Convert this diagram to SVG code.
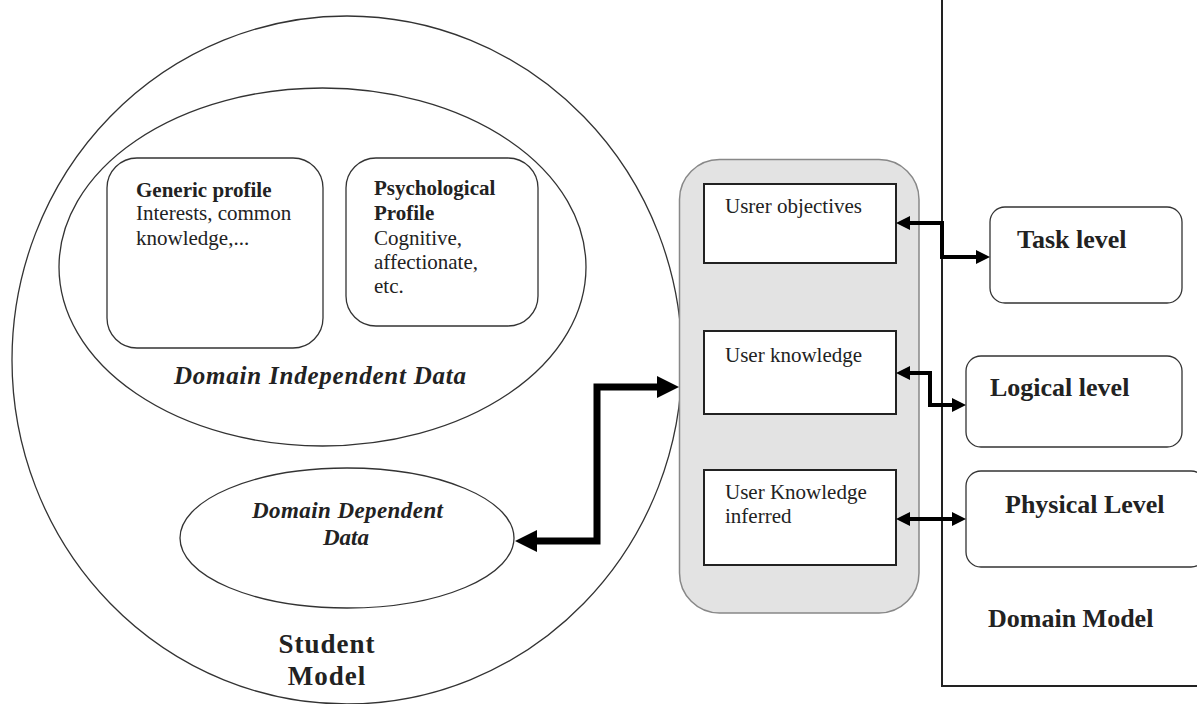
<svg xmlns="http://www.w3.org/2000/svg" width="1197" height="704" viewBox="0 0 1197 704">
  <defs>
    <style>
      .outline { fill: none; stroke: #333; stroke-width: 1.3; }
      .box { fill: #fff; stroke: #333; stroke-width: 1.3; }
      .sqbox { fill: #fff; stroke: #222; stroke-width: 2; }
      .txt { font-family: "Liberation Serif", "Times New Roman", serif; font-size: 21px; fill: #222; }
      .b { font-weight: bold; }
      .big { font-family: "Liberation Serif", "Times New Roman", serif; font-size: 26px; font-weight: bold; fill: #222; }
      .bi { font-family: "Liberation Serif", "Times New Roman", serif; font-style: italic; font-weight: bold; fill: #222; }
      .thin { fill: none; stroke: #000; stroke-width: 4; stroke-linejoin: miter; }
      .thick { fill: none; stroke: #000; stroke-width: 7; stroke-linejoin: miter; }
    </style>
    <marker id="head" markerUnits="userSpaceOnUse" markerWidth="16" markerHeight="16" viewBox="0 -8 16 16" refX="0" refY="0" orient="auto-start-reverse">
      <path d="M0,-7 L14,0 L0,7 z" fill="#000"/>
    </marker>
    <marker id="bighead" markerUnits="userSpaceOnUse" markerWidth="24" markerHeight="24" viewBox="0 -12 24 24" refX="0" refY="0" orient="auto-start-reverse">
      <path d="M0,-11 L22,0 L0,11 z" fill="#000"/>
    </marker>
  </defs>

  <rect width="1197" height="704" fill="#fff"/>

  <!-- Student model -->
  <g id="student-model">
    <ellipse class="outline" cx="347" cy="360" rx="335" ry="344"/>
    <text class="txt b" x="327" y="653" text-anchor="middle" style="font-size:27px;letter-spacing:1px">Student</text>
    <text class="txt b" x="327" y="685" text-anchor="middle" style="font-size:27px;letter-spacing:1px">Model</text>
  </g>

  <g id="domain-independent-data">
    <ellipse class="outline" cx="322.5" cy="267" rx="263.5" ry="179"/>
    <text class="bi" x="174" y="384" font-size="25" textLength="292" lengthAdjust="spacing">Domain Independent Data</text>
  </g>

  <g id="generic-profile">
    <rect class="box" x="107" y="158" width="216" height="190" rx="30" ry="30"/>
    <text class="txt b" x="136" y="197">Generic profile</text>
    <text class="txt" x="136" y="220">Interests, common</text>
    <text class="txt" x="136" y="245">knowledge,...</text>
  </g>

  <g id="psychological-profile">
    <rect class="box" x="346" y="158" width="192" height="168" rx="30" ry="30"/>
    <text class="txt b" x="374" y="195">Psychological</text>
    <text class="txt b" x="374" y="220">Profile</text>
    <text class="txt" x="374" y="245">Cognitive,</text>
    <text class="txt" x="374" y="269">affectionate,</text>
    <text class="txt" x="374" y="293">etc.</text>
  </g>

  <g id="domain-dependent-data">
    <ellipse class="outline" cx="347" cy="538" rx="167" ry="70"/>
    <text class="bi" x="252" y="518" font-size="23" textLength="191" lengthAdjust="spacing">Domain Dependent</text>
    <text class="bi" x="346" y="545" font-size="23" text-anchor="middle">Data</text>
  </g>

  <!-- User model column -->
  <g id="user-model">
    <rect x="679.5" y="159.5" width="239.5" height="453.5" rx="40" ry="40" fill="#e3e3e3" stroke="#888" stroke-width="1.5"/>
  </g>

  <g id="user-objectives">
    <rect class="sqbox" x="704" y="184" width="192" height="79"/>
    <text class="txt" x="725" y="213">Usrer objectives</text>
  </g>

  <g id="user-knowledge">
    <rect class="sqbox" x="704" y="331" width="192" height="83"/>
    <text class="txt" x="725" y="362">User knowledge</text>
  </g>

  <g id="user-knowledge-inferred">
    <rect class="sqbox" x="704" y="470" width="192" height="95"/>
    <text class="txt" x="725" y="499">User Knowledge</text>
    <text class="txt" x="725" y="523">inferred</text>
  </g>

  <!-- Domain model -->
  <g id="domain-model">
    <rect x="942" y="-5" width="270" height="691" fill="none" stroke="#222" stroke-width="2"/>
    <text class="big" x="988" y="627">Domain Model</text>
  </g>

  <g id="task-level">
    <rect class="box" x="990" y="207" width="192" height="96" rx="15" ry="15"/>
    <text class="big" x="1017" y="248">Task level</text>
  </g>

  <g id="logical-level">
    <rect class="box" x="966" y="356" width="216" height="91" rx="15" ry="15"/>
    <text class="big" x="990" y="396">Logical level</text>
  </g>

  <g id="physical-level">
    <rect class="box" x="966" y="471" width="240" height="96" rx="15" ry="15"/>
    <text class="big" x="1005" y="513">Physical Level</text>
  </g>

  <!-- Connectors -->
  <g id="connectors">
    <path class="thick" d="M537,541 H597 V387 H657" marker-start="url(#bighead)" marker-end="url(#bighead)"/>
    <path class="thin" d="M910,223 H942 V257 H976" marker-start="url(#head)" marker-end="url(#head)"/>
    <path class="thin" d="M910,373 H930 V405 H952" marker-start="url(#head)" marker-end="url(#head)"/>
    <path class="thin" d="M910,519 H952" marker-start="url(#head)" marker-end="url(#head)"/>
  </g>
</svg>
